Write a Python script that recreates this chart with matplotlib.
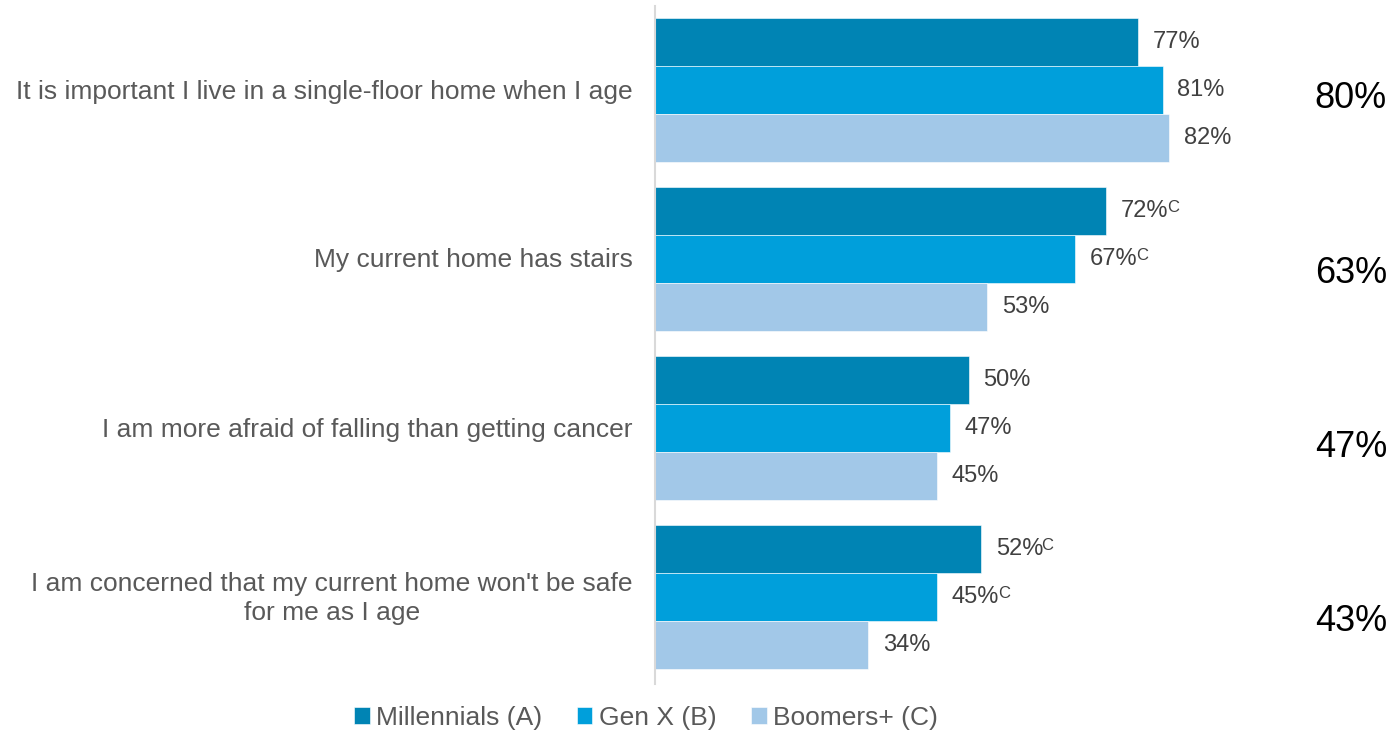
import numpy as np
import matplotlib.pyplot as plt

plt.rcParams['font.family'] = ['Liberation Sans', 'DejaVu Sans']

statements = [
    "It is important I live in a single-floor home when I age",
    "My current home has stairs",
    "I am more afraid of falling than getting cancer",
    "I am concerned that my current home won't be safe\nfor me as I age",
]
series = ["Millennials (A)", "Gen X (B)", "Boomers+ (C)"]
millennials = [77, 72, 50, 52]
gen_x = [81, 67, 47, 45]
boomers = [82, 53, 45, 34]
# significance letters shown next to the value labels
millennials_sig = ["", "C", "", "C"]
gen_x_sig = ["", "C", "", "C"]
boomers_sig = ["", "", "", ""]
totals = [80, 63, 47, 43]

colors = ["#0084B4", "#009FDB", "#A2C8E8"]

W, H = 1391, 734
fig = plt.figure(figsize=(W / 100, H / 100), dpi=100)
ax_top, ax_bot = 6, 684
ax = fig.add_axes([655 / W, 1 - ax_bot / H, 627 / W, (ax_bot - ax_top) / H])
ax.set_xlim(0, 100)
ax.set_ylim(ax_bot, ax_top)

bar_h = 48
group_step = 169
first_top = 18

values = [millennials, gen_x, boomers]
sigs = [millennials_sig, gen_x_sig, boomers_sig]
for j, (vals, sig) in enumerate(zip(values, sigs)):
    ys = [first_top + i * group_step + j * bar_h + bar_h / 2 for i in range(len(vals))]
    ax.barh(ys, vals, height=bar_h, color=colors[j], edgecolor='white',
            linewidth=0.4, label=series[j])
    for y, v, s in zip(ys, vals, sig):
        t = ax.annotate(f"{v}%", xy=(v, y), xytext=(10.5, 0), textcoords='offset points',
                        ha='left', va='center', fontsize=17, color='#404040')
        if s:
            ax.annotate(s, xy=(1.0, 1.0), xycoords=t, xytext=(-1, 0),
                        textcoords='offset points', ha='left', va='top',
                        fontsize=12, color='#404040')

# statement labels and overall totals
for i, (label, tot) in enumerate(zip(statements, totals)):
    yc = first_top + i * group_step + 1.5 * bar_h
    ax.text(-3.6, yc + 1.5, label, ha='right', va='center',
            multialignment='center', fontsize=19, color='#595959',
            linespacing=1.3)
    ax.text(1387, H - (99 + 174.3 * i), f"{tot}%", transform=None,
            ha='right', va='center', fontsize=26, color='black')

for side in ['top', 'right', 'bottom']:
    ax.spines[side].set_visible(False)
ax.spines['left'].set_color('#D9D9D9')
ax.spines['left'].set_linewidth(1.5)
ax.set_xticks([])
ax.set_yticks([])

leg = fig.legend(loc='center', bbox_to_anchor=(646 / W, 1 - 718 / H), ncol=3,
                 frameon=False, fontsize=19, handlelength=0.6, handleheight=0.6,
                 handletextpad=0.25, columnspacing=1.3, labelcolor='#595959')

fig.savefig('out.png', dpi=100)
